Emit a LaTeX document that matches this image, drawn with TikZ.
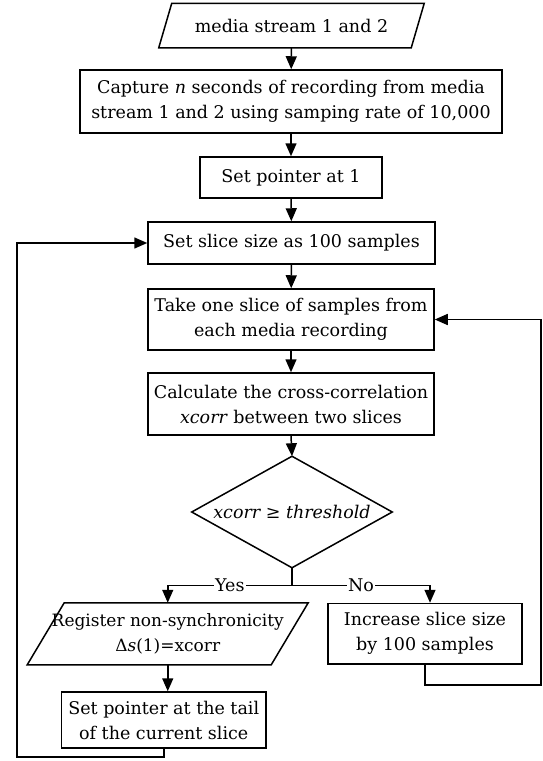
\documentclass[tikz,border=0pt]{standalone}
\usepackage{fontspec}
\setmainfont{DejaVu Serif}
\usetikzlibrary{arrows.meta,calc}
\begin{document}
\begin{tikzpicture}[x=1pt,y=-1pt,
  line width=1.5pt,
  every node/.style={inner sep=0pt, font=\fontsize{17.5}{25}\selectfont, align=center},
  proc/.style={draw, minimum width=#1},
  arr/.style={-{Triangle[length=13pt,width=11pt]}},
  lbl/.style={fill=white, inner xsep=1pt, inner ysep=2pt}
]
\useasboundingbox (0,0) rectangle (542,761);
% nodes
\node (in)  [minimum width=251, minimum height=43] at (291.5,25.5) {media stream 1 and 2};
\draw ([xshift=6.5]in.north west) -- ([xshift=6.5]in.north east) -- ([xshift=-6.5]in.south east) -- ([xshift=-6.5]in.south west) -- cycle;
\node (cap) [proc=422, minimum height=63] at (291,101.5) {Capture \textit{n} seconds of recording from media\\stream 1 and 2 using samping rate of 10,000};
\node (p1)  [proc=182, minimum height=41] at (291,177.5) {Set pointer at 1};
\node (sl)  [proc=287, minimum height=42] at (291.5,243) {Set slice size as 100 samples};
\node (tk)  [proc=286, minimum height=61] at (291,319.5) {Take one slice of samples from\\each media recording};
\node (cc)  [proc=286, minimum height=62] at (291,404) {Calculate the cross-correlation\\\textit{xcorr} between two slices};
\node (dec) [minimum width=199, minimum height=110] at (292,512) {\textit{xcorr ≥ threshold}};
\draw (dec.north) -- (dec.east) -- (dec.south) -- (dec.west) -- cycle;
\node (reg) [minimum width=242.5, minimum height=60.5, font=\fontsize{17}{25}\selectfont] at (167.75,633.75) {Register non-synchronicity\\Δ\textit{s}(1)=xcorr};
\draw ([xshift=18.5]reg.north west) -- ([xshift=18.5]reg.north east) -- ([xshift=-18.5]reg.south east) -- ([xshift=-18.5]reg.south west) -- cycle;
\node (inc) [proc=194, minimum height=60.5] at (425,633.75) {Increase slice size\\by 100 samples};
\node (tl)  [proc=204.5, minimum height=56] at (163.75,720) {Set pointer at the tail\\of the current slice};
\coordinate (br) at (292,585.5);
\coordinate (fbR) at (541,685);
\coordinate (lpL) at (17,757);
% connectors
\draw[arr] (in) -- (cap);
\draw[arr] (cap) -- (p1);
\draw[arr] (p1) -- (sl);
\draw[arr] (sl) -- (tk);
\draw[arr] (tk) -- (cc);
\draw[arr] (cc.south) -- (dec.north);
\draw (dec.south) -- (br);
\draw[arr] (br) -- node[lbl]{Yes} (br -| reg.north) -- (reg.north);
\draw[arr] (br) -- node[lbl]{No} (br -| 430,0) -- (430,0 |- inc.north);
\draw[arr] (reg.south) -- (reg.south |- tl.north);
\draw[arr] (inc.south) -- (inc.south |- fbR) -- (fbR) -- (fbR |- tk.east) -- (tk.east);
\draw[arr] (tl.south) -- (tl.south |- lpL) -- (lpL) -- (lpL |- sl.west) -- (sl.west);
\end{tikzpicture}
\end{document}
